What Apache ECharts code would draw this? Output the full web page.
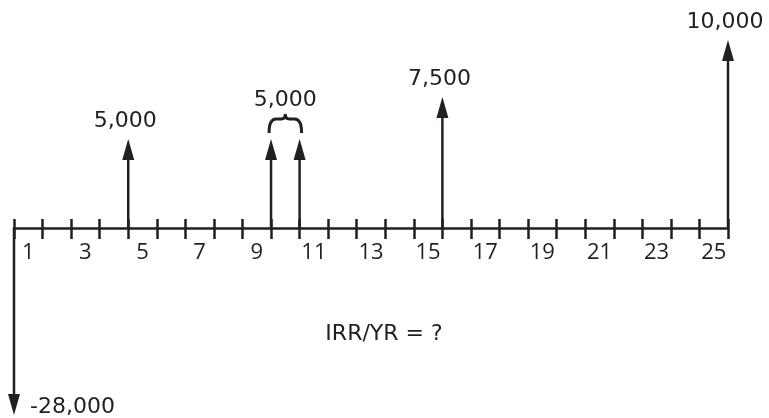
<!DOCTYPE html>
<html>
<head>
<meta charset="utf-8">
<script src="https://cdn.jsdelivr.net/npm/echarts@6/dist/echarts.min.js"></script>
<style>html,body{margin:0;padding:0;background:#fff}#c{width:769px;height:418px}</style>
</head>
<body>
<div id="c"></div>
<script>
// Periods (end-of-period positions on the time line)
var periods = [0, 4, 9, 10, 15, 25];
// Cash flows at those periods
var cashFlows = [-28000, 5000, 5000, 5000, 7500, 10000];
// Drawn arrow heights (schematic diagram units)
var arrowHeights = [-187, 89, 89, 89, 131, 188];
// Periods grouped under one brace label
var bracePeriods = [9, 10];
var braceValue = 5000;
// Category labels under the time line
var periodLabels = [];
for (var i = 1; i <= 25; i++) periodLabels.push(String(i));
var question = 'IRR/YR = ?';

var INK = '#231f20';
var YMIN = -190, YMAX = 228;
var VFONT = '22px "DejaVu Sans"';
function fmt(v) { return v.toLocaleString('en-US'); }

var arrowData = periods.map(function (p, i) { return [p, arrowHeights[i], cashFlows[i]]; });

var chart = echarts.init(document.getElementById('c'), null, { renderer: 'canvas' });
chart.setOption({
  animation: false,
  backgroundColor: '#fff',
  grid: { left: 14, right: 41, top: 0, bottom: 0, outerBoundsMode: 'none', containLabel: false },
  xAxis: [
    { type: 'value', min: 0, max: 25, interval: 1, position: 'bottom', offset: YMIN,
      axisLine: { onZero: false, lineStyle: { color: INK, width: 2.5 } },
      axisTick: { show: true, length: 11, lineStyle: { color: INK, width: 2.5 } },
      axisLabel: { show: false }, splitLine: { show: false } },
    { type: 'value', min: 0, max: 25, interval: 1, position: 'bottom', offset: YMIN,
      axisLine: { show: false, onZero: false },
      axisTick: { show: true, inside: true, length: 9, lineStyle: { color: INK, width: 2.5 } },
      axisLabel: { show: false }, splitLine: { show: false } },
    { type: 'category', data: periodLabels, boundaryGap: true, position: 'bottom', offset: YMIN,
      axisLine: { show: false, onZero: false }, axisTick: { show: false },
      axisLabel: { interval: 1, color: INK, fontFamily: 'Open Sans', fontSize: 22, margin: 14 } }
  ],
  yAxis: { type: 'value', min: YMIN, max: YMAX, show: false, splitLine: { show: false } },
  graphic: [
    { type: 'text', x: 384, y: 334, style: { text: question, fill: INK, font: VFONT, textAlign: 'center', textVerticalAlign: 'middle' } }
  ],
  series: [
    {
      type: 'custom', xAxisIndex: 0, yAxisIndex: 0, clip: false,
      data: arrowData,
      renderItem: function (params, api) {
        var x = api.value(0), h = api.value(1), v = api.value(2);
        var base = api.coord([x, 0]);
        var tip = api.coord([x, h]);
        var dir = h > 0 ? -1 : 1;
        var headLen = 21, halfW = 6;
        var neck = tip[1] - dir * headLen;
        var children = [
          { type: 'line', shape: { x1: base[0], y1: base[1], x2: tip[0], y2: neck + dir * 2 },
            style: { stroke: INK, lineWidth: 2.5 } },
          { type: 'polygon', shape: { points: [[tip[0], tip[1]], [tip[0] - halfW, neck], [tip[0] + halfW, neck]] },
            style: { fill: INK } }
        ];
        var grouped = bracePeriods.indexOf(x) >= 0;
        if (!grouped) {
          if (h > 0) {
            children.push({ type: 'text', x: tip[0] - 3, y: tip[1] - 18,
              style: { text: fmt(v), fill: INK, font: VFONT, align: 'center', verticalAlign: 'middle' } });
          } else {
            children.push({ type: 'text', x: tip[0] + 16, y: tip[1] - 8,
              style: { text: fmt(v), fill: INK, font: VFONT, align: 'left', verticalAlign: 'middle' } });
          }
        }
        return { type: 'group', children: children };
      }
    },
    {
      type: 'custom', xAxisIndex: 0, yAxisIndex: 0, clip: false,
      data: [[bracePeriods[0], bracePeriods[1], arrowHeights[periods.indexOf(bracePeriods[0])], braceValue]],
      renderItem: function (params, api) {
        var a = api.coord([api.value(0), api.value(2)]);
        var b = api.coord([api.value(1), api.value(2)]);
        var x1 = a[0] - 2, x2 = b[0] + 2, yb = a[1] - 6, yt = a[1] - 20, m = (x1 + x2) / 2;
        var path = 'M' + x1 + ' ' + yb + ' Q' + x1 + ' ' + yt + ' ' + (x1 + 7) + ' ' + yt +
          ' L' + (m - 4) + ' ' + yt + ' Q' + m + ' ' + yt + ' ' + m + ' ' + (yt - 5) +
          ' Q' + m + ' ' + yt + ' ' + (m + 4) + ' ' + yt +
          ' L' + (x2 - 7) + ' ' + yt + ' Q' + x2 + ' ' + yt + ' ' + x2 + ' ' + yb;
        return { type: 'group', children: [
          { type: 'path', shape: { pathData: path }, style: { stroke: INK, lineWidth: 3, fill: null } },
          { type: 'text', x: m, y: yt - 19,
            style: { text: fmt(api.value(3)), fill: INK, font: VFONT, align: 'center', verticalAlign: 'middle' } }
        ] };
      }
    }
  ]
});
</script>
</body>
</html>
